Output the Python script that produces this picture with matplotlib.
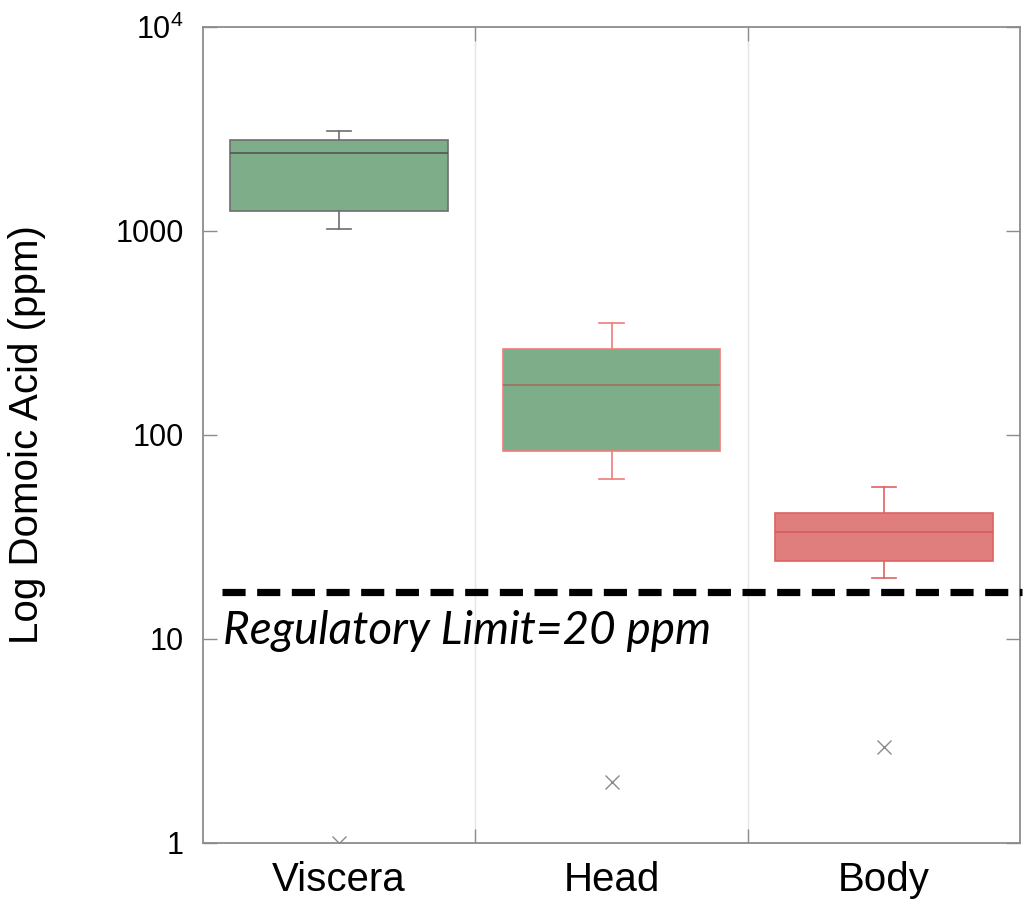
import matplotlib
matplotlib.use("Agg")
import matplotlib.pyplot as plt
import matplotlib.transforms as mtransforms

# ---- data ----
categories = ["Viscera", "Head", "Body"]
whisker_low = [1025, 61, 19.9]
q1 = [1253, 83.4, 24.0]
median = [2404, 175, 33.4]
q3 = [2786, 265, 41.6]
whisker_high = [3083, 356, 55.3]
outliers = [[1.0], [2.0], [2.95]]
regulatory_limit_line = 17.0
regulatory_label = "Regulatory Limit=20 ppm"
ytick_values = [1, 10, 100, 1000, 10000]
ytick_labels = ["1", "10", "100", "1000", r"$10^4$"]

fill_colors = ["#7DAE89", "#7DAE89", "#E07E7E"]
edge_colors = ["#6E6E6E", "#F07C7C", "#E06262"]
median_colors = ["#555555", "#A07060", "#D85A5A"]

plt.rcParams["font.family"] = ["Liberation Sans", "DejaVu Sans"]
plt.rcParams["mathtext.fontset"] = "custom"
plt.rcParams["mathtext.rm"] = "Liberation Sans"
plt.rcParams["mathtext.it"] = "Liberation Sans:italic"

fig = plt.figure(figsize=(10.29, 9.02), dpi=100)
ax = fig.add_axes([203 / 1029, 59 / 902, 817 / 1029, 816 / 902])

positions = list(range(1, len(categories) + 1))
stats = []
for i, c in enumerate(categories):
    stats.append(dict(label=c, whislo=whisker_low[i], q1=q1[i], med=median[i],
                      q3=q3[i], whishi=whisker_high[i], fliers=outliers[i]))

for i, s in enumerate(stats):
    ax.bxp([s], positions=[positions[i]], widths=0.8, patch_artist=True,
           showfliers=True, capwidths=0.09,
           boxprops=dict(facecolor=fill_colors[i], edgecolor=edge_colors[i], linewidth=1.2),
           medianprops=dict(color=median_colors[i], linewidth=1.2),
           whiskerprops=dict(color=edge_colors[i], linewidth=1.2),
           capprops=dict(color=edge_colors[i], linewidth=1.2),
           flierprops=dict(marker="x", markersize=10, markeredgecolor="#8A8A8A",
                           markeredgewidth=1.0, linestyle="none"))

ax.set_yscale("log")
ax.set_ylim(1, 10000)
ax.set_xlim(0.5, len(categories) + 0.5)

ax.set_yticks(ytick_values)
ax.set_yticklabels(ytick_labels)
ax.yaxis.set_minor_locator(matplotlib.ticker.NullLocator())
ax.tick_params(axis="y", which="major", direction="in", length=10, width=1.0,
               color="#8C8C8C", labelsize=22, pad=14, right=True, left=True)

# category boundaries as major x ticks (gridlines), labels on minor ticks at centres
ax.set_xticks([p + 0.5 for p in positions[:-1]])
ax.set_xticklabels([])
ax.set_xticks(positions, minor=True)
ax.set_xticklabels(categories, minor=True)
ax.tick_params(axis="x", which="major", direction="in", length=10, width=1.0,
               color="#8C8C8C", top=True, bottom=True)
ax.tick_params(axis="x", which="minor", length=0, labelsize=29, pad=13)
ax.grid(axis="x", which="major", color="#E4E4E4", linewidth=1.0)
ax.set_axisbelow(True)

for sp in ax.spines.values():
    sp.set_color("#8C8C8C")
    sp.set_linewidth(1.3)

ax.set_ylabel("Log Domoic Acid (ppm)", fontsize=29, labelpad=50)

# regulatory limit dashed line
ax.plot([0.57, 3.508], [regulatory_limit_line, regulatory_limit_line], color="black",
        linewidth=5.2, linestyle=(0, (3.2, 1.6)), clip_on=False, zorder=5,
        solid_capstyle="butt", dash_capstyle="butt")

trans = mtransforms.blended_transform_factory(ax.transAxes, ax.transData)
ax.text(20 / 817, 9.5, regulatory_label, transform=trans, fontsize=33,
        style="italic", family=["Lato", "DejaVu Sans"], va="baseline", ha="left", zorder=6)

fig.savefig("out.png", dpi=100)
